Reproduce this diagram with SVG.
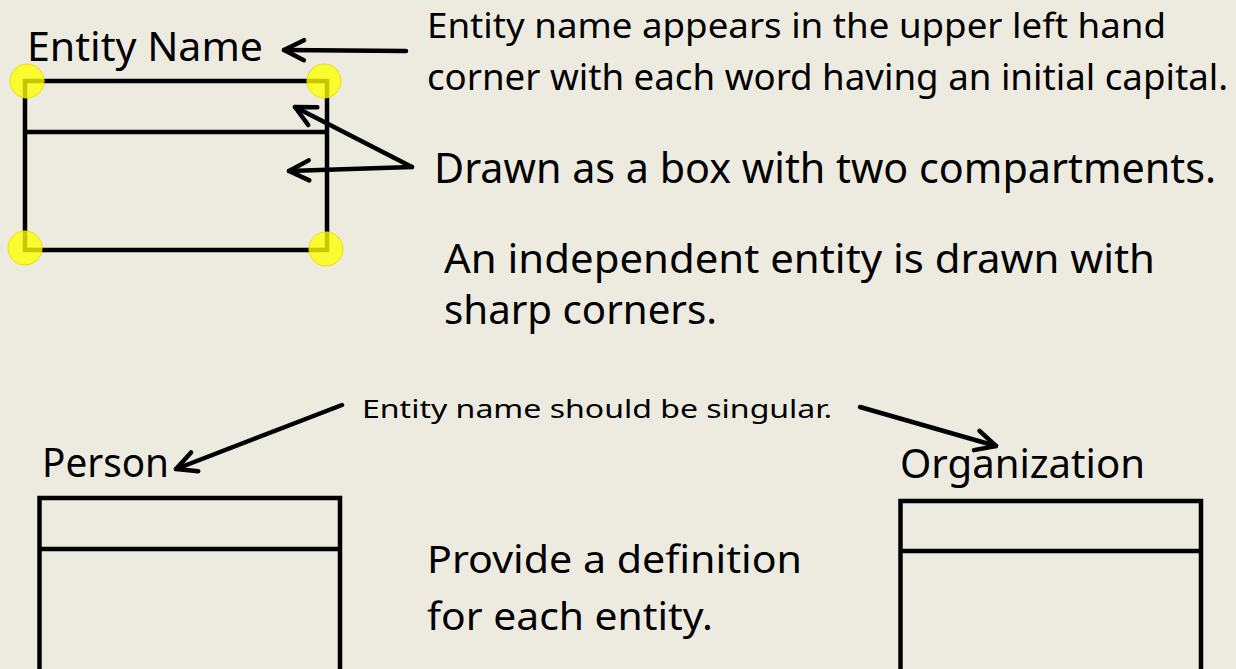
<svg xmlns="http://www.w3.org/2000/svg" width="1236" height="669" viewBox="0 0 1236 669">
<style>
text{font-family:"Noto Sans","Open Sans","Liberation Sans",sans-serif;fill:#000}
.box{fill:none;stroke:#000;stroke-width:4.5}
.conn{fill:none;stroke:#000;stroke-width:4.5;stroke-linecap:round}
.hl{fill:#ffff00;fill-opacity:0.78;stroke:#e6e000;stroke-width:1}
</style>
<defs>
<marker id="ah" markerUnits="userSpaceOnUse" markerWidth="40" markerHeight="40" viewBox="-30 -20 40 40" refX="0" refY="0" orient="auto">
<path d="M -20 -10 L 0 0 L -20 10" fill="none" stroke="#000" stroke-width="4.5" stroke-linecap="round" stroke-linejoin="round"/>
</marker>
</defs>
<rect width="1236" height="669" fill="#edebe0"/>

<g id="entity-example">
<text x="27" y="61" font-size="40" textLength="236" lengthAdjust="spacingAndGlyphs">Entity Name</text>
<line class="box" x1="25" y1="81" x2="327" y2="81"/>
<line class="box" x1="25" y1="79" x2="25" y2="252"/>
<line class="box" x1="327" y1="79" x2="327" y2="252"/>
<line class="box" x1="25" y1="132" x2="327" y2="132"/>
<line class="box" x1="25" y1="250" x2="327" y2="250"/>
<circle class="hl" cx="27" cy="81" r="17"/>
<circle class="hl" cx="324" cy="81" r="17"/>
<circle class="hl" cx="25" cy="248" r="17"/>
<circle class="hl" cx="326" cy="249" r="17"/>
</g>

<g id="notes">
<text x="427" y="38" font-size="35" textLength="739" lengthAdjust="spacingAndGlyphs">Entity name appears in the upper left hand</text>
<text x="427" y="90" font-size="36" textLength="801" lengthAdjust="spacingAndGlyphs">corner with each word having an initial capital.</text>
<text x="434" y="183" font-size="41" textLength="782" lengthAdjust="spacingAndGlyphs">Drawn as a box with two compartments.</text>
<text x="444" y="273" font-size="40" textLength="711" lengthAdjust="spacingAndGlyphs">An independent entity is drawn with</text>
<text x="444" y="324" font-size="40" textLength="273" lengthAdjust="spacingAndGlyphs">sharp corners.</text>
<text x="362" y="418" font-size="26" textLength="470" lengthAdjust="spacingAndGlyphs">Entity name should be singular.</text>
<text x="427" y="573" font-size="38" textLength="375" lengthAdjust="spacingAndGlyphs">Provide a definition</text>
<text x="427" y="630" font-size="38" textLength="286" lengthAdjust="spacingAndGlyphs">for each entity.</text>
</g>

<g id="person">
<text x="42" y="477" font-size="40" textLength="127" lengthAdjust="spacingAndGlyphs">Person</text>
<path class="box" d="M 39.5 680 L 39.5 498 L 340 498 L 340 680"/>
<line class="box" x1="39.5" y1="549" x2="340" y2="549"/>
</g>

<g id="organization">
<text x="900" y="478" font-size="40" textLength="245" lengthAdjust="spacingAndGlyphs">Organization</text>
<path class="box" d="M 900.5 680 L 900.5 501 L 1201 501 L 1201 680"/>
<line class="box" x1="900.5" y1="551" x2="1201" y2="551"/>
</g>

<g id="connectors">
<line class="conn" x1="406" y1="51" x2="284" y2="50" marker-end="url(#ah)"/>
<line class="conn" x1="412" y1="167" x2="295" y2="107" marker-end="url(#ah)"/>
<line class="conn" x1="412" y1="167" x2="289" y2="171" marker-end="url(#ah)"/>
<line class="conn" x1="342" y1="405" x2="176" y2="469" marker-end="url(#ah)"/>
<line class="conn" x1="860" y1="407" x2="996" y2="446" marker-end="url(#ah)"/>
</g>
</svg>
